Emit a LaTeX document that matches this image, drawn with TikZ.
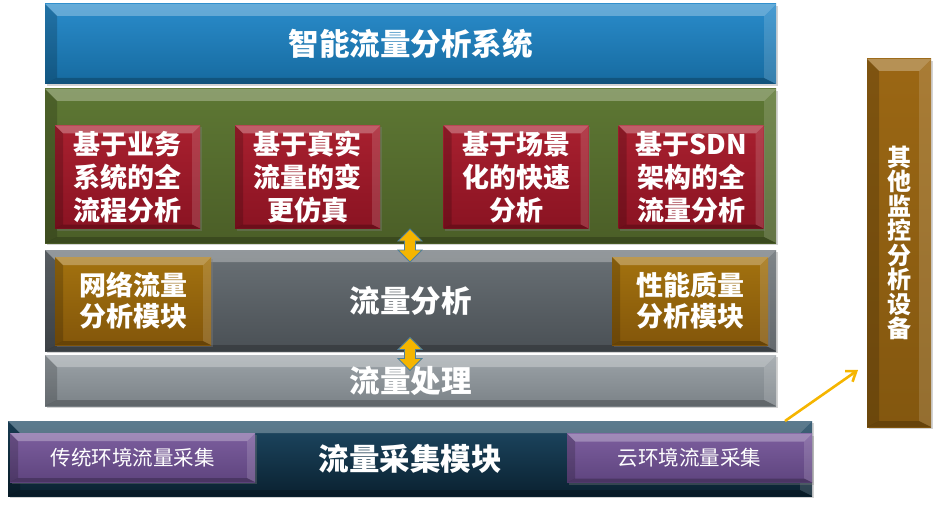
\documentclass[tikz,border=0pt]{standalone}
\usepackage{fontspec}
\setmainfont{Noto Sans CJK SC}
\usetikzlibrary{shadows,arrows.meta}

\definecolor{blueT}{HTML}{2A8CCB}
\definecolor{blueB}{HTML}{166A9F}
\definecolor{greenT}{HTML}{5E7834}
\definecolor{greenB}{HTML}{4B5E27}
\definecolor{redT}{HTML}{A8202F}
\definecolor{redB}{HTML}{8A1322}
\definecolor{dgrayT}{HTML}{6A7176}
\definecolor{dgrayB}{HTML}{4A5055}
\definecolor{lgrayT}{HTML}{9CA3A8}
\definecolor{lgrayB}{HTML}{7B8287}
\definecolor{navyT}{HTML}{1E4964}
\definecolor{navyB}{HTML}{0A2130}
\definecolor{purpT}{HTML}{7C5E9E}
\definecolor{purpB}{HTML}{5E447E}
\definecolor{brownT}{HTML}{A3720F}
\definecolor{brownB}{HTML}{83560A}
\definecolor{sideT}{HTML}{9B6714}
\definecolor{sideB}{HTML}{83570F}
\definecolor{arrowY}{HTML}{F5B500}
\definecolor{arrowE}{HTML}{4F7F9A}

\newcommand\bevelpic[1]{%
  \coordinate (bNW) at (path picture bounding box.north west);
  \coordinate (bNE) at (path picture bounding box.north east);
  \coordinate (bSW) at (path picture bounding box.south west);
  \coordinate (bSE) at (path picture bounding box.south east);
  \coordinate (iNW) at ([xshift=#1,yshift=-#1]bNW);
  \coordinate (iNE) at ([xshift=-#1,yshift=-#1]bNE);
  \coordinate (iSW) at ([xshift=#1,yshift=0.5*#1]bSW);
  \coordinate (iSE) at ([xshift=-#1,yshift=0.5*#1]bSE);
  \fill[white,opacity=.28] (bNW)--(bNE)--(iNE)--(iNW)--cycle;
  \fill[black,opacity=.18] (bNW)--(iNW)--(iSW)--(bSW)--cycle;
  \fill[white,opacity=.14] (bNE)--(iNE)--(iSE)--(bSE)--cycle;
  \fill[black,opacity=.22] (bSW)--(iSW)--(iSE)--(bSE)--cycle;
}

\tikzset{
  base/.style={rectangle, inner sep=0pt, outer sep=0pt, text=white, align=center,
    drop shadow={opacity=.35, shadow xshift=1.5pt, shadow yshift=-2pt}},
  bar/.style={base, path picture={\bevelpic{12pt}}},
  box/.style={base, path picture={\bevelpic{8pt}}},
  bigtxt/.style={font=\fontsize{30.5}{34}\selectfont\bfseries},
  boxtxt/.style={font=\fontsize{27}{33}\selectfont\bfseries},
  redbox/.style={box, boxtxt, top color=redT, bottom color=redB,
    minimum width=145pt, minimum height=103pt},
  brownbox/.style={box, font=\fontsize{27}{31}\selectfont\bfseries,
    top color=brownT, bottom color=brownB, minimum width=156pt, minimum height=88pt},
  purpbox/.style={box, font=\fontsize{20.5}{24}\selectfont,
    top color=purpT, bottom color=purpB, minimum height=49pt},
  dblarrow/.style={fill=arrowY, draw=arrowE, line width=0.8pt, line join=miter},
  linkarrow/.style={draw=arrowY, line width=2.6pt, -{Straight Barb[length=9pt,width=13pt]}}
}

\begin{document}
\begin{tikzpicture}[x=1pt,y=-1pt]
\useasboundingbox (0,0) rectangle (939,508);

% top title bar
\node[bar, bigtxt, top color=blueT, bottom color=blueB,
  minimum width=731pt, minimum height=80pt] (title) at (410.5,44) {智能流量分析系统};

% green bar with red boxes
\node[bar, top color=greenT, bottom color=greenB,
  minimum width=731pt, minimum height=154pt] (green) at (410.5,166) {};
\node[redbox] (r1) at (127.5,177) {基于业务\\系统的全\\流程分析};
\node[redbox] (r2) at (307.5,177) {基于真实\\流量的变\\更仿真};
\node[redbox] (r3) at (516,177) {基于场景\\化的快速\\分析};
\node[redbox] (r4) at (691,177) {基于SDN\\架构的全\\流量分析};

% flow analysis bar
\node[bar, bigtxt, top color=dgrayT, bottom color=dgrayB,
  minimum width=731pt, minimum height=101pt] (ana) at (410.5,300.5) {流量分析};
\node[brownbox] (m1) at (133,301) {网络流量\\分析模块};
\node[brownbox] (m2) at (690,301) {性能质量\\分析模块};

% flow processing bar
\node[bar, bigtxt, top color=lgrayT, bottom color=lgrayB,
  minimum width=731pt, minimum height=51pt] (proc) at (410.5,380.5) {流量处理};

% collection bar
\node[bar, bigtxt, top color=navyT, bottom color=navyB,
  minimum width=804pt, minimum height=75pt] (coll) at (410,458.5) {流量采集模块};
\node[purpbox, minimum width=245pt] (p1) at (132.5,457.5) {传统环境流量采集};
\node[purpbox, minimum width=245pt] (p2) at (689.5,458) {云环境流量采集};

% side device
\node[bar, font=\fontsize{24}{24.5}\selectfont\bfseries, top color=sideT, bottom color=sideB,
  minimum width=64pt, minimum height=368pt] (side) at (899,243)
  {其\\他\\监\\控\\分\\析\\设\\备};

% double arrows (between green and analysis bar, analysis and processing bar)
\coordinate (a1) at (410,245.5);
\coordinate (a2) at (410,354);
\foreach \c in {a1,a2}{
  \draw[dblarrow] (\c) ++(0,-16.5) -- ++(12,12) -- ++(-6.5,0) -- ++(0,9) -- ++(6.5,0)
    -- ++(-12,12) -- ++(-12,-12) -- ++(6.5,0) -- ++(0,-9) -- ++(-6.5,0) -- cycle;
}

% link arrow
\draw[linkarrow] ([xshift=-27pt]coll.north east) -- ([xshift=-9pt,yshift=57pt]side.south west);
\end{tikzpicture}
\end{document}
